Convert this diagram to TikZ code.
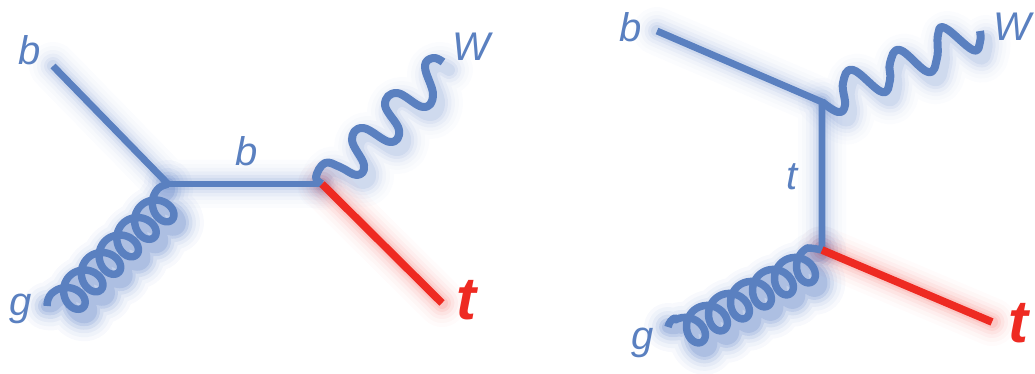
\documentclass[tikz,border=0pt]{standalone}
\usepackage{fontspec}
\setmainfont{Liberation Sans}
\definecolor{fblue}{HTML}{5A80C0}
\definecolor{fglow}{HTML}{4A72C0}
\definecolor{fred}{HTML}{EE2A22}
\tikzset{
  bline/.style={draw=fblue,line width=5.2pt,line join=round},
  gline/.style={draw=fblue,line width=5.6pt,line join=round},
  wline/.style={draw=fblue,line width=6pt,line join=round},
  thinb/.style={draw=fblue,line width=4.4pt,line join=round},
  rline/.style={draw=fred,line width=5.8pt},
  lab/.style={text=fblue,font=\itshape\fontsize{30}{30}\selectfont,inner sep=0pt},
  labt/.style={text=fred,font=\bfseries\itshape\fontsize{45}{45}\selectfont,inner sep=0pt},
  coil/.style={variable=\pa,domain=-3.1416:34.558,samples=280},
}
% soft offset glow under a path
\newcommand{\softglow}[2]{%
  \foreach \glw/\glo in {48/0.018,40/0.022,32/0.035,25/0.05,18/0.07,12/0.09}{%
    \draw[shift={(6,8)},draw=#1,line width=0.75*\glw pt,opacity=\glo,line cap=round,line join=round] #2;}%
}
\begin{document}
\begin{tikzpicture}[x=0.75pt,y=-0.75pt]
\useasboundingbox (0,0) rectangle (1035,374);
% ---- vertices
\coordinate (Lb) at (53,66);
\coordinate (Lv) at (168,184);
\coordinate (Lw) at (322,184);
\coordinate (Lt) at (442,303);
\coordinate (Lg) at (47,306);
\coordinate (Rb) at (657,31);
\coordinate (Ru) at (822,102);
\coordinate (Rd) at (822,250);
\coordinate (Rt) at (992,322);
\coordinate (Rg) at (668,327);
% ---- paths
\def\LW{plot[smooth,tension=.7] coordinates {(Lw) (316,177) (325,163) (340,167) (357,175) (364,165) (352,140) (363,128) (390,142) (399,130) (385,105) (397,93) (423,107) (433,95) (425,67) (433,58) (443,62)}}
\def\RW{plot[smooth,tension=.7] coordinates {(Ru) (838,112) (845,105) (843,83) (853,70) (882,92) (890,80) (890,63) (900,50) (928,72) (937,58) (938,35) (945,28) (973,50) (980,42) (980,31)}}
\def\LG{(Lg) .. controls (47,300) and (49,296) .. (52,293) -- plot[coil] ({72+(25*\pa/6.2832-14*sin(\pa r))*0.71+16*cos(\pa r)*0.70},{296-(25*\pa/6.2832-14*sin(\pa r))*0.70+16*cos(\pa r)*0.71}) .. controls (161,186) and (165,185) .. (Lv)}
\def\RG{(Rg) .. controls (669,322) and (672,319) .. (675,318) -- plot[coil] ({694+(25*\pa/6.2832-14*sin(\pa r))*0.88+16*cos(\pa r)*0.48},{328-(25*\pa/6.2832-14*sin(\pa r))*0.48+16*cos(\pa r)*0.88}) .. controls (812,248) and (817,249) .. (Rd)}
% ---- glows
\softglow{fglow}{(Lb) -- (Lv) -- (Lw)}
\softglow{fglow}{\LW}
\softglow{fglow}{\LG}
\softglow{fglow}{\LG}
\softglow{fred}{(Lw) -- (Lt)}
\softglow{fglow}{(Rb) -- (Ru) -- (Rd)}
\softglow{fglow}{\RW}
\softglow{fglow}{\RG}
\softglow{fglow}{\RG}
\softglow{fred}{(Rd) -- (Rt)}
% ---- lines
\draw[bline] (Lb) -- (Lv);
\draw[thinb] (Lv) -- (Lw);
\draw[wline] \LW;
\draw[gline] \LG;
\draw[rline] (Lw) -- (Lt);
\draw[bline] (Rb) -- (Ru) -- (Rd);
\draw[wline] \RW;
\draw[gline] \RG;
\draw[rline] (Rd) -- (Rt);
% ---- labels
\node[lab] (l1) at (30,50) {b};
\node[lab] (l2) at (471,47) {W};
\node[lab] (l3) at (21,309) {g};
\node[lab] (l4) at (247,151) {b};
\node[labt] (l5) at (466,300) {t};
\node[lab] (r1) at (631,27) {b};
\node[lab] (r2) at (1012,27) {W};
\node[lab] (r3) at (792,177) {t};
\node[lab] (r4) at (643,343) {g};
\node[labt] (r5) at (1018,323) {t};
\end{tikzpicture}
\end{document}
